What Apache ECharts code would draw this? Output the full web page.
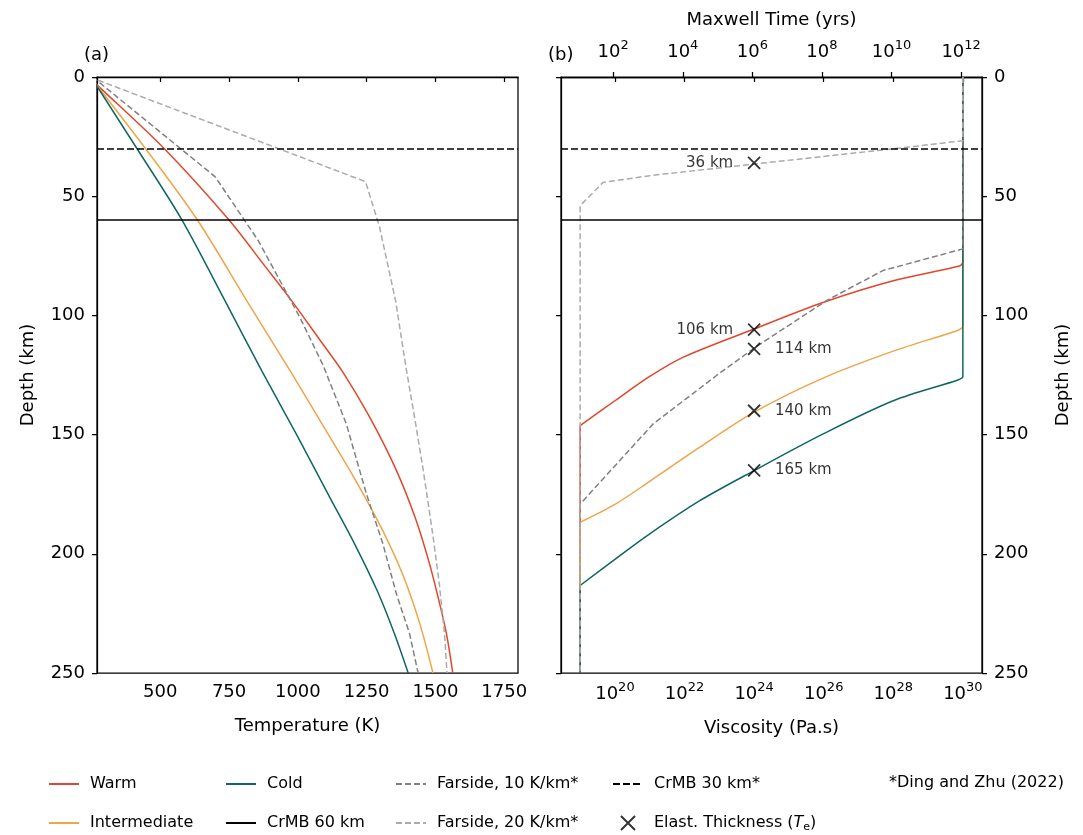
<!DOCTYPE html>
<html>
<head>
<meta charset="utf-8">
<script src="https://cdn.jsdelivr.net/npm/echarts@6/dist/echarts.min.js"></script>
<style>
  html, body { margin: 0; padding: 0; background: #fff; }
  #chart { width: 1083px; height: 835px; }
</style>
</head>
<body>
<div id="chart"></div>
<script>
// (a) temperature profiles, pairs of [temperature K, depth km]
const warmTemp = [[240, 0], [273, 3.6], [514, 30], [750, 60], [874, 78.4], [977, 93.8], [1078, 110], [1164, 123.9], [1261, 142.7], [1358, 165], [1430, 186], [1478, 204], [1514, 220.3], [1540, 233.5], [1563, 250]]
const intermTemp = [[246, 0], [273, 4], [446, 30], [635, 60], [814, 93.8], [971, 123.1], [1116, 151], [1204, 168], [1302, 188.8], [1380, 208.4], [1443, 229.3], [1491, 250]]
const coldTemp = [[249, 0], [273, 4.4], [415, 30], [579, 60], [735, 93.8], [868, 123.1], [994, 149.7], [1116, 176.3], [1206, 195.8], [1288, 215.4], [1351, 233.5], [1401, 250]]
const far10Temp = [[254, 0], [699, 41.8], [856, 68.6], [1007, 100.8], [1092, 121], [1176, 145.5], [1249, 174.8], [1309, 195.8], [1358, 216.8], [1406, 233.5], [1437, 250]]
const far20Temp = [[243, 0], [1246, 43.9], [1297, 63], [1355, 93.8], [1394, 122.5], [1424, 142.7], [1454, 163.7], [1490, 191.6], [1514, 212.6], [1533, 233.5], [1542, 250]]

// (b) viscosity profiles, pairs of [log10 viscosity (Pa.s), depth km]
const warmVisc = [[30, 0], [30, 78], [29.9, 79.3], [28, 85.5], [26, 94.5], [24, 105.7], [22, 117.3], [21, 125.6], [20, 135.8], [19, 146.2], [19, 250]]
const intermVisc = [[30, 0], [30, 105], [29.85, 106.3], [28, 115], [26, 126.2], [24, 140.6], [22.44, 155.3], [21, 169.6], [20, 179.3], [19, 186.8], [19, 250]]
const coldVisc = [[30, 0], [30, 126], [29.86, 127.1], [28, 135.8], [26, 149.6], [24, 165.1], [22.44, 177.7], [21, 191.6], [20, 202.3], [19, 213.3], [19, 250]]
const far10Visc = [[30, 0], [30, 72.1], [27.7, 81.2], [26.08, 93.8], [24.01, 113.6], [22.92, 125.2], [21.1, 145.5], [20.05, 162.3], [19.09, 177.7], [19, 179], [19, 250]]
const far20Visc = [[30, 0], [30, 26.7], [28.57, 29.2], [24.01, 36.5], [21, 41.4], [19.66, 44.2], [19, 54], [19, 250]]

// elastic thickness markers
const teVisc = [24, 24, 24, 24, 24]
const teDepth = [36, 106, 114, 140, 165]
const teLabels = ['36 km', '106 km', '114 km', '140 km', '165 km']
const teSide = ['left', 'left', 'right', 'right', 'right']

// crust-mantle boundaries (km)
const crmb60 = 60
const crmb30 = 30

// axes
const tempRange = [270, 1800]
const tempTicks = [500, 750, 1000, 1250, 1500, 1750]
const depthRange = [0, 250]
const viscRange = [18.45, 30.55]
const viscTicks = [20, 22, 24, 26, 28, 30]
const maxwellTicks = [2, 4, 6, 8, 10, 12]
const maxwellShift = 17.95 // log10(shear modulus * seconds per year)

const FONT = 'DejaVu Sans'
const RED = '#e2462b'
const ORANGE = '#f0a448'
const TEAL = '#0f6663'
const DGRAY = '#808080'
const LGRAY = '#ababab'

const chart = echarts.init(document.getElementById('chart'))

const axisLine = { lineStyle: { color: '#000', width: 1.25 } }
const tick = (vals) => ({ customValues: vals, length: 5, lineStyle: { color: '#000', width: 1.25 } })
const powLabel = (v) => '{b|10}{s|' + v + '}'
const powRich = {
  b: { fontSize: 18, fontFamily: FONT, color: '#000', verticalAlign: 'bottom', lineHeight: 22 },
  s: { fontSize: 13, fontFamily: FONT, color: '#000', verticalAlign: 'top', lineHeight: 22 }
}

function depthAxis (grid, pos, labels) {
  return {
    gridIndex: grid,
    type: 'value',
    position: pos,
    inverse: true,
    min: depthRange[0],
    max: depthRange[1],
    interval: 50,
    name: labels ? 'Depth (km)' : '',
    nameLocation: 'middle',
    nameGap: pos === 'left' ? 60 : 72,
    nameRotate: 90,
    nameTextStyle: { fontFamily: FONT, fontSize: 18, color: '#000' },
    axisLine: axisLine,
    axisTick: { length: 5, lineStyle: { color: '#000', width: 1.25 } },
    axisLabel: { show: labels, fontFamily: FONT, fontSize: 18, color: '#000', margin: 12 },
    splitLine: { show: false }
  }
}

function line (name, data, color, grid, dash, smooth) {
  return {
    name: name,
    type: 'line',
    xAxisIndex: grid,
    yAxisIndex: grid,
    data: data,
    symbol: 'none',
    smooth: smooth || false,
    color: color,
    lineStyle: { color: color, width: 1.5, type: dash || 'solid' },
    z: dash ? 3 : 2
  }
}

// viscosity profile: straight top and bottom pieces, smooth bend between
function viscProfile (name, data, color) {
  return [
    line(name, data.slice(0, 2), color, 1),
    line(name, data.slice(1, -1), color, 1, null, 0.3),
    line(name, data.slice(-2), color, 1)
  ]
}

function boundary (name, depth, dash, grid) {
  return {
    name: name,
    type: 'line',
    xAxisIndex: grid,
    yAxisIndex: grid,
    data: [],
    symbol: 'none',
    color: '#000',
    lineStyle: { color: '#000', width: 1.5, type: dash },
    markLine: {
      silent: true,
      symbol: 'none',
      label: { show: false },
      lineStyle: { color: '#000', width: 1.5, type: dash },
      data: [{ yAxis: depth }]
    },
    z: 4
  }
}

const teData = teVisc.map((v, i) => ({
  value: [v, teDepth[i]],
  label: { position: teSide[i], formatter: teLabels[i] }
}))

// legend entries for lines get no symbol in the handle
const noMark = (n) => ({ name: n, itemStyle: { opacity: 0 } })

const legendBase = {
  orient: 'vertical',
  top: 776,
  padding: 0,
  itemWidth: 30,
  itemHeight: 14,
  itemGap: 23,
  textStyle: {
    fontFamily: FONT,
    fontSize: 16,
    color: '#000',
    padding: [0, 0, 0, 6],
    rich: {
      it: { fontFamily: FONT, fontSize: 16, fontStyle: 'italic', color: '#000' },
      sub: { fontFamily: FONT, fontSize: 11, color: '#000', padding: [8, 0, 0, 0] }
    }
  },
  formatter: (n) => n === 'Elast. Thickness' ? 'Elast. Thickness ({it|T}{sub|e})' : n
}

const option = {
  animation: false,
  backgroundColor: '#fff',
  grid: [
    { left: 97, top: 77, width: 421, height: 596, show: true, borderColor: '#000', borderWidth: 1.25, backgroundColor: 'transparent' },
    { left: 561, top: 77, width: 421, height: 596, show: true, borderColor: '#000', borderWidth: 1.25, backgroundColor: 'transparent' }
  ],
  xAxis: [
    {
      gridIndex: 0,
      type: 'value',
      min: tempRange[0],
      max: tempRange[1],
      name: 'Temperature (K)',
      nameLocation: 'middle',
      nameGap: 44,
      nameTextStyle: { fontFamily: FONT, fontSize: 18, color: '#000' },
      axisLine: axisLine,
      axisTick: tick(tempTicks),
      axisLabel: { customValues: tempTicks, formatter: (v) => String(v), fontFamily: FONT, fontSize: 18, color: '#000', margin: 10 },
      splitLine: { show: false }
    },
    {
      gridIndex: 1,
      type: 'value',
      min: viscRange[0],
      max: viscRange[1],
      name: 'Viscosity (Pa.s)',
      nameLocation: 'middle',
      nameGap: 46,
      nameTextStyle: { fontFamily: FONT, fontSize: 18, color: '#000' },
      axisLine: axisLine,
      axisTick: tick(viscTicks),
      axisLabel: { customValues: viscTicks, formatter: powLabel, rich: powRich, margin: 8 },
      splitLine: { show: false }
    },
    {
      gridIndex: 1,
      type: 'value',
      position: 'top',
      min: viscRange[0] - maxwellShift,
      max: viscRange[1] - maxwellShift,
      name: 'Maxwell Time (yrs)',
      nameLocation: 'middle',
      nameGap: 48,
      nameTextStyle: { fontFamily: FONT, fontSize: 18, color: '#000' },
      axisLine: axisLine,
      axisTick: tick(maxwellTicks),
      axisLabel: { customValues: maxwellTicks, formatter: powLabel, rich: powRich, margin: 16 },
      splitLine: { show: false }
    }
  ],
  yAxis: [
    depthAxis(0, 'left', true),
    depthAxis(1, 'right', true),
    depthAxis(1, 'left', false)
  ],
  legend: [
    Object.assign({}, legendBase, { left: 48, data: [noMark('Warm'), noMark('Intermediate')] }),
    Object.assign({}, legendBase, { left: 225, data: [noMark('Cold'), noMark('CrMB 60 km')] }),
    Object.assign({}, legendBase, { left: 395, data: [noMark('Farside, 10 K/km*'), noMark('Farside, 20 K/km*')] }),
    Object.assign({}, legendBase, { left: 612, data: [noMark('CrMB 30 km*'), 'Elast. Thickness'] })
  ],
  graphic: [
    { type: 'text', left: 84, top: 46, style: { text: '(a)', font: '18px "DejaVu Sans"', fill: '#000' } },
    { type: 'text', left: 548, top: 46, style: { text: '(b)', font: '18px "DejaVu Sans"', fill: '#000' } },
    { type: 'text', left: 889, top: 775, style: { text: '*Ding and Zhu (2022)', font: '16px "DejaVu Sans"', fill: '#000' } }
  ],
  series: [
    line('Warm', warmTemp, RED, 0, null, 0.3),
    line('Intermediate', intermTemp, ORANGE, 0, null, 0.3),
    line('Cold', coldTemp, TEAL, 0, null, 0.3),
    line('Farside, 10 K/km*', far10Temp, DGRAY, 0, [6, 3]),
    line('Farside, 20 K/km*', far20Temp, LGRAY, 0, [6, 3]),
    boundary('CrMB 60 km', crmb60, 'solid', 0),
    boundary('CrMB 30 km*', crmb30, [7, 3], 0)
  ].concat(
    viscProfile('Warm', warmVisc, RED),
    viscProfile('Intermediate', intermVisc, ORANGE),
    viscProfile('Cold', coldVisc, TEAL),
    [
      line('Farside, 10 K/km*', far10Visc, DGRAY, 1, [6, 3]),
      line('Farside, 20 K/km*', far20Visc, LGRAY, 1, [6, 3]),
      boundary('CrMB 60 km', crmb60, 'solid', 1),
      boundary('CrMB 30 km*', crmb30, [7, 3], 1),
      {
        name: 'Elast. Thickness',
        type: 'scatter',
        xAxisIndex: 1,
        yAxisIndex: 1,
        data: teData,
        symbol: 'path://M0,0L12,12M12,0L0,12',
        symbolSize: 12,
        color: '#000',
        itemStyle: { color: '#000', borderColor: '#000', borderWidth: 1.8 },
        label: { show: true, distance: 14, fontFamily: FONT, fontSize: 15, color: '#000' },
        z: 5
      }
    ]
  )
}

chart.setOption(option)
</script>
</body>
</html>
